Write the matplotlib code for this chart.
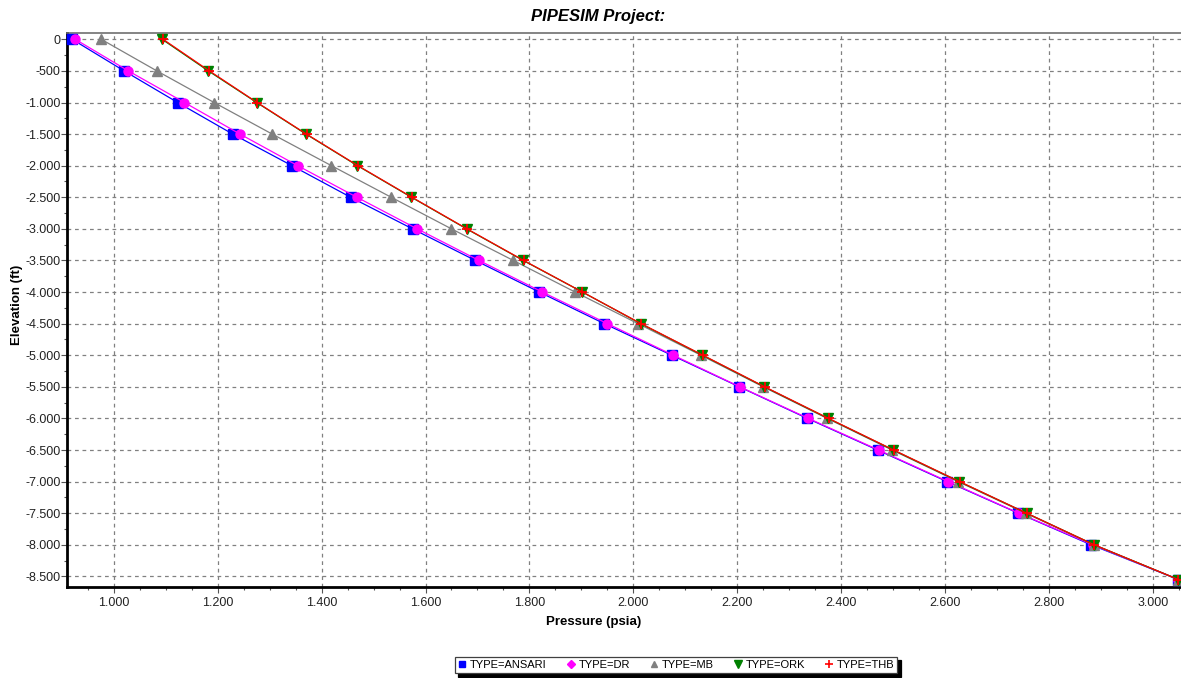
import matplotlib
matplotlib.use("Agg")
import matplotlib.pyplot as plt
from matplotlib.lines import Line2D
from matplotlib.ticker import FuncFormatter, MultipleLocator

plt.rcParams["font.family"] = ["Liberation Sans", "DejaVu Sans"]

# elevation of the profile points [ft]
elevation = [0, -500, -1000, -1500, -2000, -2500, -3000, -3500, -4000,
             -4500, -5000, -5500, -6000, -6500, -7000, -7500, -8000, -8550]

# pressure [psia] per correlation type
p_ansari = [920, 1020, 1123, 1229, 1343, 1456, 1575, 1696, 1819,
            1944, 2074, 2204, 2335, 2470, 2604, 2741, 2881, 3049]
p_dr = [926, 1028, 1136, 1243, 1354, 1468, 1584, 1703, 1825,
        1950, 2077, 2205, 2337, 2472, 2606, 2742, 2884, 3049]
p_mb = [976, 1083, 1193, 1305, 1419, 1534, 1650, 1769, 1888,
        2009, 2130, 2250, 2373, 2498, 2625, 2755, 2886, 3049]
p_ork = [1093, 1182, 1275, 1370, 1469, 1573, 1679, 1788, 1902,
         2014, 2133, 2252, 2375, 2500, 2627, 2757, 2887, 3049]
p_thb = [1095, 1184, 1276, 1371, 1470, 1574, 1680, 1789, 1902,
         2015, 2134, 2253, 2376, 2501, 2628, 2757, 2887, 3049]

labels = ["TYPE=ANSARI", "TYPE=DR", "TYPE=MB", "TYPE=ORK", "TYPE=THB"]

W, H = 1181, 678
fig = plt.figure(figsize=(W / 100, H / 100), dpi=100)
fig.patch.set_facecolor("white")

# axes box in pixel coords: left 67, right 1181, top 33, bottom 587
ax = fig.add_axes([67 / W, 1 - 587 / H, (1181 - 67) / W, (587 - 33) / H])

series = [
    (p_ansari, "#0000ff", "s", 7.0, 1.0),
    (p_dr, "#ff00ff", "o", 6.5, 1.0),
    (p_mb, "#808080", "^", 7.0, 1.0),
    (p_ork, "#008000", "v", 7.5, 1.0),
    (p_thb, "#ff0000", "+", 7.5, 1.3),
]
for p, col, mk, ms, mew in series:
    ax.plot(p, elevation, color=col, lw=0.9, marker=mk, ms=ms,
            mec=col, mfc=col, mew=mew, clip_on=False, zorder=3)

ax.set_xlim(910, 3054)
ax.set_ylim(-8668, 100)

thousands = FuncFormatter(lambda v, _: f"{v:,.0f}".replace(",", "."))
ax.xaxis.set_major_locator(MultipleLocator(200))
ax.xaxis.set_minor_locator(MultipleLocator(50))
ax.yaxis.set_major_locator(MultipleLocator(500))
ax.yaxis.set_minor_locator(MultipleLocator(250))
ax.xaxis.set_major_formatter(thousands)
ax.yaxis.set_major_formatter(thousands)

ax.grid(True, which="major", color="#808080", ls=(0, (3, 3)), lw=0.9)
ax.set_axisbelow(True)

ax.tick_params(which="both", direction="out", labelsize=9,
               labelcolor="#222222", color="#555555", top=False, right=False)
ax.tick_params(which="major", length=4, width=0.8)
ax.tick_params(which="minor", length=2.5, width=0.8)
ax.tick_params(axis="y", which="major", pad=0.5)
ax.tick_params(axis="x", which="major", pad=3)

for side in ("left", "bottom"):
    ax.spines[side].set_linewidth(2.0)
    ax.spines[side].set_color("black")
ax.spines["top"].set_color("#707070")
ax.spines["top"].set_linewidth(1.2)
ax.spines["right"].set_visible(False)

fig.text(598 / W, 1 - 16 / H, "PIPESIM Project:", ha="center", va="center",
         fontsize=12, fontweight="bold", fontstyle="italic")
fig.text(594 / W, 1 - 622 / H, "Pressure (psia)", ha="center", va="center",
         fontsize=9.5, fontweight="bold")
fig.text(17 / W, 1 - 305 / H, "Elevation (ft)", ha="center", va="center",
         rotation=90, fontsize=9.5, fontweight="bold")

handles = [
    Line2D([], [], ls="none", marker="s", ms=5, color="#0000ff"),
    Line2D([], [], ls="none", marker="D", ms=4.5, color="#ff00ff"),
    Line2D([], [], ls="none", marker="^", ms=5, color="#808080"),
    Line2D([], [], ls="none", marker="v", ms=5.5, color="#008000"),
    Line2D([], [], ls="none", marker="+", ms=6, mew=1.2, color="#ff0000"),
]
leg = fig.legend(handles, labels, loc="center", bbox_to_anchor=(676 / W, 1 - 665 / H),
                 ncol=5, fontsize=8, frameon=True, fancybox=False,
                 handlelength=0.8, handletextpad=0.3, columnspacing=1.75,
                 borderpad=0.3, edgecolor="#404040",
                 shadow={"ox": 2.5, "oy": -2.5, "color": "black", "alpha": 1})
leg.get_frame().set_linewidth(0.9)

fig.savefig("out.png", dpi=100, facecolor="white")
